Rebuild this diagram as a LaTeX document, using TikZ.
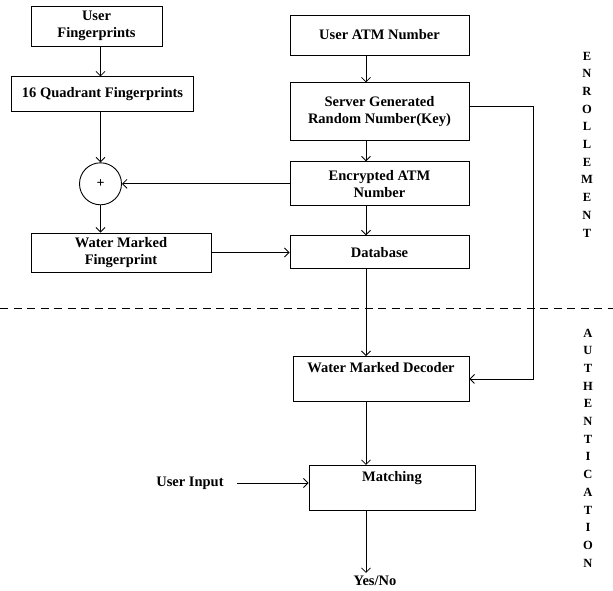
\documentclass[tikz,border=0pt]{standalone}
\usepackage{fontspec}
\setmainfont{Liberation Serif}
\usetikzlibrary{arrows.meta,positioning}
\tikzset{>={Straight Barb[length=4.5pt,width=9pt]}}
\tikzset{box node/.style={draw,line width=.9pt,align=center,inner sep=2pt,font=\fontsize{14.5}{17}\selectfont\bfseries},
            txt node/.style={align=center,inner sep=3pt,font=\fontsize{14.5}{17}\selectfont\bfseries},
            side node/.style={align=center,inner sep=0pt,font=\fontsize{12.5}{17.7}\selectfont\bfseries},
            sum node/.style={circle,draw,line width=.9pt,minimum size=42pt,inner sep=0pt,font=\fontsize{14}{16}\selectfont\bfseries},
            low node/.style={box node,anchor=north,inner ysep=6pt,text height=10pt,text depth=23pt},
            }

\begin{document}
\begin{tikzpicture}[x=1pt,y=-1pt]
    \useasboundingbox (0,0) rectangle (613,590);

    % enrollment, right column
    \node[box node,minimum width=179pt,minimum height=40pt] (atm) at (379.5,35) {User ATM Number};
    \node[box node,minimum width=179pt,minimum height=58pt] (key) [below=27pt of atm] {Server Generated\\Random Number(Key)};
    \node[box node,minimum width=179pt,minimum height=44pt] (enc) [below=20pt of key] {Encrypted ATM\\Number};
    \node[box node,minimum width=179pt,minimum height=33pt] (db) [below=29pt of enc] {Database};

    % enrollment, left column
    \node[box node,minimum width=131pt,minimum height=40pt] (ufp) at (96.5,26) {User\\Fingerprints};
    \node[box node,minimum width=182pt,minimum height=35pt] (quad) [below=30pt of ufp,xshift=6pt] {16 Quadrant Fingerprints};
    \node[sum node] (sum) [below=50pt of quad,xshift=-2pt] {+};
    \node[box node,minimum width=180pt,minimum height=39pt] (wmf) at (121,252.5) {Water Marked\\Fingerprint};

    % authentication
    \node[low node,minimum width=176pt] (dec) at (381,356) {Water Marked Decoder};
    \node[low node,minimum width=166pt] (match) [below=63pt of dec,xshift=11pt] {Matching};
    \node[txt node,inner sep=0pt] (uin) at (190,483) {User Input};
    \node[txt node] (yn) at (375,581) {Yes/No};

    \node[side node] (enr) at (587,144.5) {E\\N\\R\\O\\L\\L\\E\\M\\E\\N\\T};
    \node[side node] (auth) at (588,448) {A\\U\\T\\H\\E\\N\\T\\I\\C\\A\\T\\I\\O\\N};

    \coordinate (rs) at (366,0);

    \path[line width=.8pt,->]
    (ufp.south -| sum) edge node {} (quad.north -| sum)
    (quad.south -| sum) edge node {} (sum)
    (sum) edge node {} (wmf.north -| sum)
    (enc) edge node {} (sum)
    (wmf.east) edge node {} (wmf.east -| db.west)
    (atm.south -| rs) edge node {} (key.north -| rs)
    (key.south -| rs) edge node {} (enc.north -| rs)
    (enc.south -| rs) edge node {} (db.north -| rs)
    (db.south -| rs) edge node {} (dec.north -| rs)
    (dec.south -| rs) edge node {} (match.north -| rs)
    ([xshift=13pt]uin.east) edge node {} (match.west |- uin.east)
    (match.south -| rs) edge node {} (yn.north -| rs);

    \draw[line width=.8pt,->] ([yshift=6pt]key.east) -- ++(64,0) |- (dec.east);

    \draw[line width=.8pt,dash pattern=on 8pt off 5.5pt] (0,308) -- (613,308);

\end{tikzpicture}
\end{document}
